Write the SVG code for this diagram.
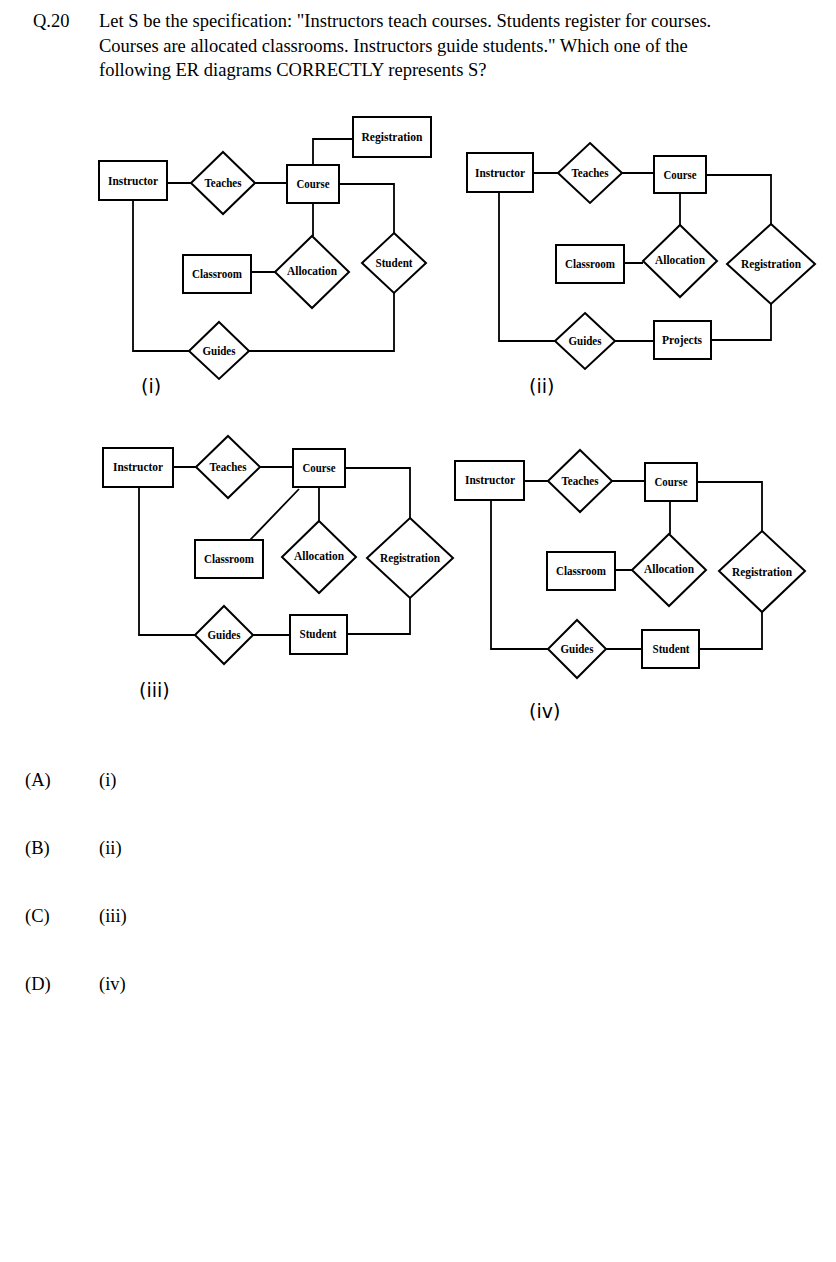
<svg xmlns="http://www.w3.org/2000/svg" width="836" height="1262" viewBox="0 0 836 1262">
<style>
.q{font-family:"Liberation Serif",serif;font-size:18.5px;fill:#000}
.e{fill:#fff;stroke:#000;stroke-width:2}
.t{font-family:"Liberation Serif",serif;font-weight:bold;font-size:13px;text-anchor:middle;fill:#000}
.c{fill:none;stroke:#000;stroke-width:1.8}
.l{font-family:"DejaVu Sans",sans-serif;font-size:19px;fill:#000;font-weight:normal}
</style>
<rect width="836" height="1262" fill="#fff"/>
<text class="q" x="33" y="27">Q.20</text>
<text class="q" x="99" y="27">Let S be the specification: "Instructors teach courses. Students register for courses.</text>
<text class="q" x="99" y="52">Courses are allocated classrooms. Instructors guide students." Which one of the</text>
<text class="q" x="99" y="76">following ER diagrams CORRECTLY represents S?</text>

<g id="connectors">
<!-- (i) -->
<path class="c" d="M167,183 H191 M255,183 H287 M313,165 V139 H353 M339,184 H394 V233 M313,203 V236 M251,272 H275 M133,200 V351 H189 M249,351 H394 V293"/>
<!-- (ii) -->
<path class="c" d="M533,173 H558 M622,173 H654 M706,175 H771 V224 M771,304 V340 H711 M615,341 H654 M499,192 V341 H555 M680,193 V225 M624,263 H643"/>
<!-- (iii) -->
<path class="c" d="M173,467 H196 M260,467 H293 M345,468 H410 V518 M410,598 V634 H347 M253,635 H290 M139,487 V635 H195 M299,489 L250,540 M319,487 V521"/>
<!-- (iv) -->
<path class="c" d="M524,481 H548 M612,481 H645 M697,482 H762 V531 M762,612 V649 H699 M606,649 H642 M491,500 V649 H548 M670,501 V534 M615,570 H632"/>
</g>

<!-- (i) -->
<g id="i-instructor"><rect class="e" x="99" y="161" width="68" height="39"/><text class="t" x="133" y="185" textLength="50" lengthAdjust="spacingAndGlyphs">Instructor</text></g>
<g id="i-teaches"><polygon class="e" points="223,152 255,183 223,214 191,183"/><text class="t" x="223" y="187" textLength="37" lengthAdjust="spacingAndGlyphs">Teaches</text></g>
<g id="i-course"><rect class="e" x="287" y="165" width="52" height="38"/><text class="t" x="313" y="188" textLength="33" lengthAdjust="spacingAndGlyphs">Course</text></g>
<g id="i-registration"><rect class="e" x="353" y="117" width="78" height="40"/><text class="t" x="392" y="141" textLength="61" lengthAdjust="spacingAndGlyphs">Registration</text></g>
<g id="i-student"><polygon class="e" points="394,233 426,263 394,293 362,263"/><text class="t" x="394" y="267" textLength="37" lengthAdjust="spacingAndGlyphs">Student</text></g>
<g id="i-allocation"><polygon class="e" points="312,236 349,272 312,308 275,272"/><text class="t" x="312" y="275" textLength="50" lengthAdjust="spacingAndGlyphs">Allocation</text></g>
<g id="i-classroom"><rect class="e" x="183" y="255" width="68" height="38"/><text class="t" x="217" y="278" textLength="50" lengthAdjust="spacingAndGlyphs">Classroom</text></g>
<g id="i-guides"><polygon class="e" points="219,322 249,351 219,379 189,351"/><text class="t" x="219" y="355" textLength="33" lengthAdjust="spacingAndGlyphs">Guides</text></g>
<text class="l" x="141" y="393">(i)</text>

<!-- (ii) -->
<g id="ii-instructor"><rect class="e" x="467" y="153" width="66" height="39"/><text class="t" x="500" y="177" textLength="50" lengthAdjust="spacingAndGlyphs">Instructor</text></g>
<g id="ii-teaches"><polygon class="e" points="590,143 622,173 590,203 558,173"/><text class="t" x="590" y="177" textLength="37" lengthAdjust="spacingAndGlyphs">Teaches</text></g>
<g id="ii-course"><rect class="e" x="654" y="156" width="52" height="37"/><text class="t" x="680" y="179" textLength="33" lengthAdjust="spacingAndGlyphs">Course</text></g>
<g id="ii-registration"><polygon class="e" points="771,224 815,264 771,304 727,264"/><text class="t" x="771" y="268" textLength="60" lengthAdjust="spacingAndGlyphs">Registration</text></g>
<g id="ii-allocation"><polygon class="e" points="680,225 717,261 680,297 643,261"/><text class="t" x="680" y="264" textLength="50" lengthAdjust="spacingAndGlyphs">Allocation</text></g>
<g id="ii-classroom"><rect class="e" x="556" y="245" width="68" height="38"/><text class="t" x="590" y="268" textLength="50" lengthAdjust="spacingAndGlyphs">Classroom</text></g>
<g id="ii-guides"><polygon class="e" points="585,313 615,341 585,369 555,341"/><text class="t" x="585" y="345" textLength="33" lengthAdjust="spacingAndGlyphs">Guides</text></g>
<g id="ii-projects"><rect class="e" x="654" y="321" width="57" height="38"/><text class="t" x="682" y="344" textLength="40" lengthAdjust="spacingAndGlyphs">Projects</text></g>
<text class="l" x="529" y="393">(ii)</text>

<!-- (iii) -->
<g id="iii-instructor"><rect class="e" x="103" y="448" width="70" height="39"/><text class="t" x="138" y="471" textLength="50" lengthAdjust="spacingAndGlyphs">Instructor</text></g>
<g id="iii-teaches"><polygon class="e" points="228,436 260,467 228,498 196,467"/><text class="t" x="228" y="471" textLength="37" lengthAdjust="spacingAndGlyphs">Teaches</text></g>
<g id="iii-course"><rect class="e" x="293" y="449" width="52" height="38"/><text class="t" x="319" y="472" textLength="33" lengthAdjust="spacingAndGlyphs">Course</text></g>
<g id="iii-registration"><polygon class="e" points="410,518 453,558 410,598 367,558"/><text class="t" x="410" y="562" textLength="60" lengthAdjust="spacingAndGlyphs">Registration</text></g>
<g id="iii-allocation"><polygon class="e" points="319,521 356,557 319,593 282,557"/><text class="t" x="319" y="560" textLength="50" lengthAdjust="spacingAndGlyphs">Allocation</text></g>
<g id="iii-classroom"><rect class="e" x="195" y="540" width="68" height="38"/><text class="t" x="229" y="563" textLength="50" lengthAdjust="spacingAndGlyphs">Classroom</text></g>
<g id="iii-guides"><polygon class="e" points="224,606 253,635 224,664 195,635"/><text class="t" x="224" y="639" textLength="33" lengthAdjust="spacingAndGlyphs">Guides</text></g>
<g id="iii-student"><rect class="e" x="290" y="615" width="57" height="39"/><text class="t" x="318" y="638" textLength="37" lengthAdjust="spacingAndGlyphs">Student</text></g>
<text class="l" x="139" y="697">(iii)</text>

<!-- (iv) -->
<g id="iv-instructor"><rect class="e" x="455" y="461" width="69" height="39"/><text class="t" x="490" y="484" textLength="50" lengthAdjust="spacingAndGlyphs">Instructor</text></g>
<g id="iv-teaches"><polygon class="e" points="580,450 612,481 580,512 548,481"/><text class="t" x="580" y="485" textLength="37" lengthAdjust="spacingAndGlyphs">Teaches</text></g>
<g id="iv-course"><rect class="e" x="645" y="463" width="52" height="38"/><text class="t" x="671" y="486" textLength="33" lengthAdjust="spacingAndGlyphs">Course</text></g>
<g id="iv-registration"><polygon class="e" points="762,531 805,571 762,612 719,571"/><text class="t" x="762" y="576" textLength="60" lengthAdjust="spacingAndGlyphs">Registration</text></g>
<g id="iv-allocation"><polygon class="e" points="669,534 706,570 669,606 632,570"/><text class="t" x="669" y="573" textLength="50" lengthAdjust="spacingAndGlyphs">Allocation</text></g>
<g id="iv-classroom"><rect class="e" x="547" y="552" width="68" height="38"/><text class="t" x="581" y="575" textLength="50" lengthAdjust="spacingAndGlyphs">Classroom</text></g>
<g id="iv-guides"><polygon class="e" points="577,620 606,649 577,678 548,649"/><text class="t" x="577" y="653" textLength="33" lengthAdjust="spacingAndGlyphs">Guides</text></g>
<g id="iv-student"><rect class="e" x="642" y="630" width="57" height="38"/><text class="t" x="671" y="653" textLength="37" lengthAdjust="spacingAndGlyphs">Student</text></g>
<text class="l" x="529" y="718">(iv)</text>

<text class="q" x="25" y="786">(A)</text><text class="q" x="99" y="786">(i)</text>
<text class="q" x="25" y="854">(B)</text><text class="q" x="99" y="854">(ii)</text>
<text class="q" x="25" y="922">(C)</text><text class="q" x="99" y="922">(iii)</text>
<text class="q" x="25" y="990">(D)</text><text class="q" x="99" y="990">(iv)</text>
</svg>
